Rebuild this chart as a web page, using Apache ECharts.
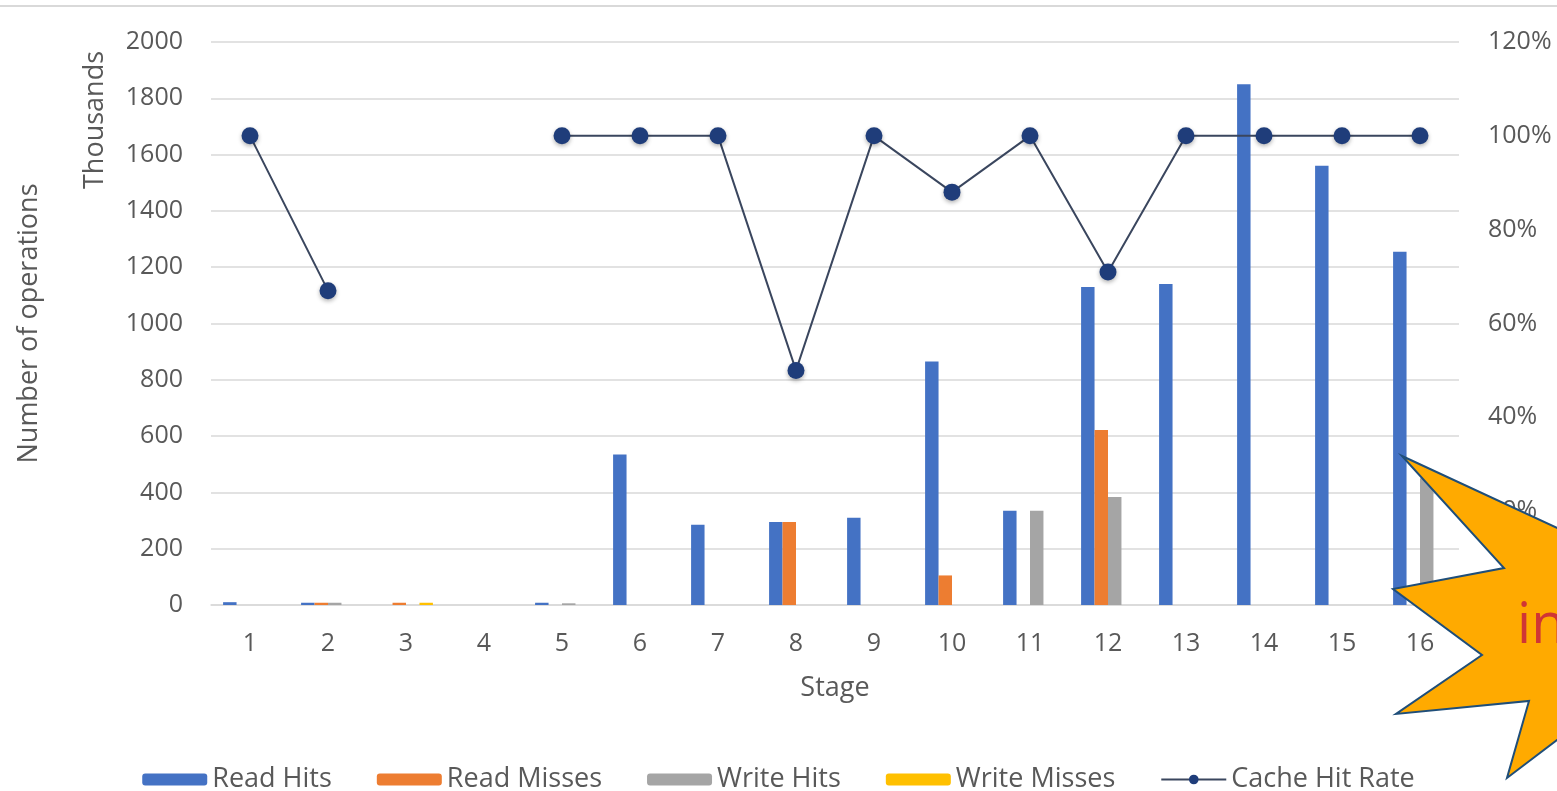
<!DOCTYPE html>
<html>
<head>
<meta charset="utf-8">
<script src="https://cdn.jsdelivr.net/npm/echarts@6/dist/echarts.min.js"></script>
<style>
html,body{margin:0;padding:0;background:#fff;}
#chart{width:1557px;height:791px;}
</style>
</head>
<body>
<div id="chart"></div>
<script>
const categories = ['1','2','3','4','5','6','7','8','9','10','11','12','13','14','15','16'];
const readHits    = [10, 8, 0, 0, 8, 535, 285, 295, 310, 865, 335, 1130, 1140, 1850, 1560, 1255];
const readMisses  = [0, 8, 8, 0, 0, 0, 0, 295, 0, 105, 0, 622, 0, 0, 0, 0];
const writeHits   = [0, 8, 0, 0, 6, 0, 0, 0, 0, 0, 335, 384, 0, 0, 0, 450];
const writeMisses = [0, 0, 8, 0, 0, 0, 0, 0, 0, 0, 0, 0, 0, 0, 0, 0];
const hitRate     = [100, 67, null, null, 100, 100, 100, 50, 100, 88, 100, 71, 100, 100, 100, 100];
const seriesNames = ['Read Hits', 'Read Misses', 'Write Hits', 'Write Misses', 'Cache Hit Rate'];

const FONT = '"Open Sans", "Noto Sans", sans-serif';
const TXT = '#595959';
const chart = echarts.init(document.getElementById('chart'), null, {renderer: 'canvas'});

function barSeries(name, data, color) {
  return {
    name: name, type: 'bar', data: data, yAxisIndex: 0,
    barGap: '0%', barCategoryGap: '31%',
    itemStyle: {color: color},
    emphasis: {disabled: true}
  };
}

const option = {
  animation: false,
  backgroundColor: '#ffffff',
  textStyle: {fontFamily: FONT},
  grid: {left: 211, right: 98, top: 42, bottom: 186, containLabel: false},
  legend: {
    data: seriesNames,
    left: 'center', top: 761,
    itemWidth: 65, itemHeight: 12, itemGap: 45,
    textStyle: {fontFamily: FONT, fontSize: 27, color: TXT}
  },
  xAxis: {
    type: 'category', data: categories,
    name: 'Stage', nameLocation: 'middle', nameGap: 70,
    nameTextStyle: {fontFamily: FONT, fontSize: 27, color: TXT},
    axisLine: {lineStyle: {color: '#d9d9d9', width: 1.5}},
    axisTick: {show: false},
    axisLabel: {fontFamily: FONT, fontSize: 25, color: TXT, margin: 26}
  },
  yAxis: [
    {
      type: 'value', min: 0, max: 2000, interval: 200,
      name: 'Number of operations', nameLocation: 'middle', nameGap: 168,
      nameTextStyle: {fontFamily: FONT, fontSize: 27, color: TXT},
      axisLine: {show: false}, axisTick: {show: false},
      axisLabel: {fontFamily: FONT, fontSize: 25, color: TXT, margin: 28, formatter: function (v) { return String(v); }},
      splitLine: {lineStyle: {color: '#d9d9d9', width: 1.5}}
    },
    {
      type: 'value', min: 0, max: 120, interval: 20, position: 'right',
      axisLine: {show: false}, axisTick: {show: false},
      axisLabel: {fontFamily: FONT, fontSize: 25, color: TXT, margin: 29, formatter: '{value}%'},
      splitLine: {show: false}
    }
  ],
  series: [
    barSeries(seriesNames[0], readHits, '#4472C4'),
    barSeries(seriesNames[1], readMisses, '#ED7D31'),
    barSeries(seriesNames[2], writeHits, '#A5A5A5'),
    barSeries(seriesNames[3], writeMisses, '#FFC000'),
    {
      name: seriesNames[4], type: 'line', yAxisIndex: 1, data: hitRate,
      connectNulls: false, z: 5,
      symbol: 'circle', symbolSize: 17,
      lineStyle: {color: '#3A465E', width: 2},
      itemStyle: {color: '#1F3D7A', shadowColor: 'rgba(0,0,0,0.3)', shadowBlur: 4, shadowOffsetY: 2},
      emphasis: {disabled: true}
    }
  ],
  graphic: [
    {
      type: 'line', z: 10,
      shape: {x1: 0, y1: 6, x2: 1557, y2: 6},
      style: {stroke: '#d9d9d9', lineWidth: 2}
    },
    {
      type: 'text', z: 10,
      x: 95, y: 120, rotation: Math.PI / 2,
      style: {text: 'Thousands', fontFamily: FONT, fontSize: 27, fill: TXT, align: 'center', verticalAlign: 'middle'}
    },
    {
      type: 'polygon', z: 20,
      shape: {points: [[1402,456],[1620,557],[1620,692],[1507,778],[1529,701],[1396,714],[1482,655],[1393,589],[1504,568]]},
      style: {fill: '#FFAA00', stroke: '#1F4E79', lineWidth: 2}
    },
    {
      type: 'text', z: 21,
      x: 1517, y: 627,
      style: {text: 'in', fontFamily: FONT, fontSize: 56, fill: '#D03535', align: 'left', verticalAlign: 'middle'}
    }
  ]
};
chart.setOption(option);
</script>
</body>
</html>
